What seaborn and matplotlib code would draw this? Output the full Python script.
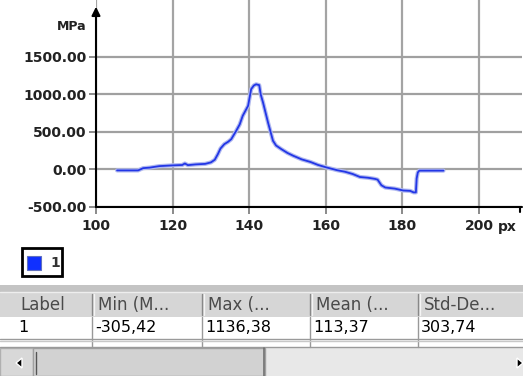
import matplotlib
matplotlib.use("Agg")
import matplotlib.pyplot as plt
import seaborn as sns
import pandas as pd
from matplotlib.patches import Rectangle, Polygon

# ---- data ----
pos_px = [105.5, 108, 111, 112.3, 114, 116.5, 120, 122.5, 123.2, 124, 126, 128.5, 130,
          131, 131.8, 132.5, 133.5, 134.5, 135.3, 136.6, 137.5, 138.3, 139.7, 140.5,
          141.2, 141.8, 142.6, 143, 143.6, 144.9, 146.2, 147, 148.4, 150, 151.5, 153.7,
          156, 158, 160.2, 163, 165, 167, 168.9, 171, 172.8, 173.5, 174.5, 175.5, 178,
          180.2, 182, 182.9, 183.5, 183.7, 184, 184.4, 187, 190.7]
stress_mpa = [-12, -12, -12, 18, 25, 45, 55, 60, 80, 58, 68, 75, 95,
              130, 204, 280, 338, 370, 404, 516, 600, 716, 849, 1071,
              1120, 1136, 1125, 1000, 893, 627, 383, 320, 271, 220, 183, 135,
              100, 60, 27, -10, -30, -60, -100, -110, -125, -135, -210, -240, -255,
              -280, -285, -305, -305, -120, -40, -15, -15, -15]

x_ticks = [100, 120, 140, 160, 180, 200]
y_ticks = [-500, 0, 500, 1000, 1500]
y_tick_labels = ["-500.00", "0.00", "500.00", "1000.00", "1500.00"]

table_cols = ["Label", "Min (M...", "Max (...", "Mean (...", "Std-De..."]
table_row = ["1", "-305,42", "1136,38", "113,37", "303,74"]
legend_label = "1"

W, H = 523, 376
sns.set_style("white")
plt.rcParams['font.family'] = ['DejaVu Sans']

fig = plt.figure(figsize=(W / 100, H / 100), dpi=100)
fig.patch.set_facecolor("white")

# main axes in pixel layout
ax = fig.add_axes([96 / W, 1 - 207 / H, 426 / W, 207 / H])
df = pd.DataFrame({"x": pos_px, "y": stress_mpa})

ax.set_xlim(100, 211.2)
ax.set_ylim(-500, 2260)

for xv in x_ticks:
    ax.axvline(xv, color="#a4a4a4", lw=1.6, zorder=0)
for yv in y_ticks:
    ax.axhline(yv, color="#a0a0a0", lw=1.6, zorder=0)

sns.lineplot(data=df, x="x", y="y", sort=False, color="#b0b8f0", lw=3.0, ax=ax, zorder=2)
sns.lineplot(data=df, x="x", y="y", sort=False, color="#2236e6", lw=1.3, ax=ax, zorder=3)

ax.set_xlabel("")
ax.set_ylabel("")
ax.set_xticks(x_ticks)
ax.set_xticklabels([str(v) for v in x_ticks])
ax.set_yticks(y_ticks)
ax.set_yticklabels(y_tick_labels)
ax.tick_params(axis="both", direction="out", length=5, width=1.2, color="#777777",
               labelsize=10, labelcolor="#222222", left=True, bottom=True)
ax.tick_params(axis="x", pad=4)
ax.tick_params(axis="y", pad=2)
for lab in ax.get_xticklabels() + ax.get_yticklabels():
    lab.set_fontweight("bold")

for s in ["top", "right", "left", "bottom"]:
    ax.spines[s].set_visible(False)
# axes lines with arrows
ax.annotate("", xy=(100, 2170), xytext=(100, -500), xycoords="data",
            arrowprops=dict(arrowstyle="-|>,head_length=0.5,head_width=0.25",
                            color="black", lw=1.5, shrinkA=0, shrinkB=0),
            annotation_clip=False, zorder=5)
ax.plot([100, 211.2], [-500, -500], color="black", lw=1.5, clip_on=False, zorder=5)

# overlay in pixel coordinates for UI chrome
ov = fig.add_axes([0, 0, 1, 1], zorder=-1)
ov.set_xlim(0, W)
ov.set_ylim(H, 0)
ov.axis("off")
ov.patch.set_alpha(0)

ov.plot([520, 520], [200, 212], color="black", lw=1.5)
ov.text(86, 26, "MPa", ha="right", va="center", fontsize=9, fontweight="bold", color="#222222")
ov.text(498, 227, "px", ha="left", va="center", fontsize=10, fontweight="bold", color="#222222")

# legend box
ov.add_patch(Rectangle((22, 248), 40, 28, facecolor="white", edgecolor="black", lw=2))
ov.add_patch(Rectangle((27, 256), 14, 14, facecolor="#1030ff", edgecolor="#6070c0", lw=0.8))
ov.text(50, 263, legend_label, ha="left", va="center", fontsize=10, fontweight="bold", color="#333333")

# table header band
ov.add_patch(Rectangle((0, 285), W, 7, facecolor="#c4c4c4", edgecolor="none"))
ov.add_patch(Rectangle((0, 292), W, 25, facecolor="#d6d6d6", edgecolor="none"))
ov.plot([0, W], [292, 292], color="#eeeeee", lw=1)
col_x = [0, 92, 202, 310, 418]
for i, cx in enumerate(col_x):
    if i > 0:
        ov.plot([cx, cx], [294, 315], color="#888888", lw=1)
        ov.plot([cx + 1.5, cx + 1.5], [294, 315], color="#f4f4f4", lw=1)
    ov.text(cx + (20 if i == 0 else 6), 305, table_cols[i], ha="left", va="center",
            fontsize=12, color="#4a4a4a")

# data row
ov.add_patch(Rectangle((0, 317), W, 31, facecolor="white", edgecolor="none"))
for i, cx in enumerate(col_x):
    if i > 0:
        ov.plot([cx, cx], [317, 347], color="#999999", lw=1)
    ov.text(cx + (18 if i == 0 else 3), 328, table_row[i], ha="left", va="center",
            fontsize=11.5, color="black")
ov.plot([0, W], [338.5, 338.5], color="#9a9a9a", lw=1)
ov.plot([0, W], [341, 341], color="#c8c8c8", lw=1)
ov.plot([0, W], [346.5, 346.5], color="#9a9a9a", lw=1)

# scrollbar
ov.add_patch(Rectangle((0, 348), W, 28, facecolor="#e8e8e8", edgecolor="none"))
ov.add_patch(Rectangle((0, 348), 33, 28, facecolor="#d8d8d8", edgecolor="#b0b0b0", lw=1))
ov.add_patch(Polygon([[16, 363], [22, 358], [22, 368]], closed=True, facecolor="black"))
ov.add_patch(Rectangle((33, 348), 232, 28, facecolor="#d2d2d2", edgecolor="#a0a0a0", lw=1))
ov.plot([36, 36], [352, 374], color="#555555", lw=1)
ov.plot([264, 264], [348, 376], color="#707070", lw=1.2)
ov.add_patch(Polygon([[517, 358], [523, 363], [517, 368]], closed=True, facecolor="black"))

fig.savefig("out.png", dpi=100, facecolor="white")
